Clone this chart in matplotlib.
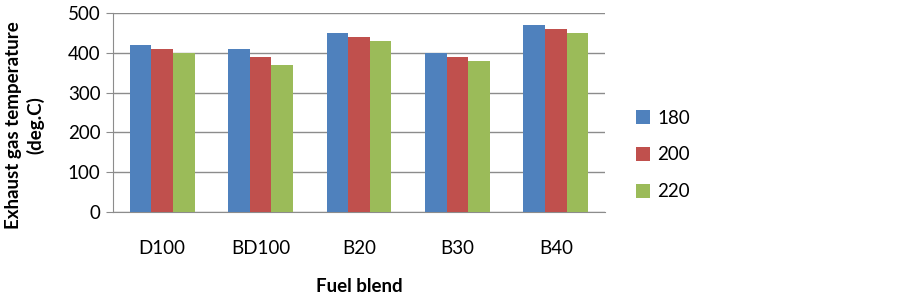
import matplotlib
matplotlib.use("Agg")
import matplotlib.pyplot as plt
import numpy as np

plt.rcParams['font.family'] = ['Lato', 'DejaVu Sans']

categories = ["D100", "BD100", "B20", "B30", "B40"]
series_names = ["180", "200", "220"]
s180 = [420, 410, 450, 400, 470]
s200 = [410, 390, 440, 390, 460]
s220 = [400, 370, 430, 380, 450]
yticks = [0, 100, 200, 300, 400, 500]

colors = ["#4F81BD", "#C0504D", "#9BBB59"]
fs = 13.5

fig = plt.figure(figsize=(9, 2.98), dpi=100)
ax = fig.add_axes([113/900, 1-212/298, (605-113)/900, (212-13)/298])

x = np.arange(len(categories))
w = 0.22
for i, (vals, name) in enumerate(zip([s180, s200, s220], series_names)):
    ax.bar(x + (i-1)*w, vals, width=w, color=colors[i], label=name, zorder=3)

ax.set_xlim(-0.5, len(categories)-0.5)
ax.set_ylim(0, 500)
ax.set_yticks(yticks)
ax.set_xticks(x)
ax.set_xticklabels(categories)
ax.yaxis.grid(True, color="#8C8C8C", linewidth=1.0, zorder=0)
for s in ["top", "right"]:
    ax.spines[s].set_visible(False)
ax.spines["left"].set_color("#8C8C8C")
ax.spines["bottom"].set_color("#8C8C8C")
ax.tick_params(axis="y", length=5, color="#8C8C8C", labelsize=fs, pad=4)
ax.tick_params(axis="x", length=0, labelsize=fs, pad=20)

ax.set_xlabel("Fuel blend", fontsize=fs, fontweight="bold", labelpad=15)
fig.text(25/900, 1-125/298, "Exhaust gas temperature\n(deg.C)", rotation=90,
         ha="center", va="center", fontsize=fs, fontweight="bold", linespacing=1.3)

leg = fig.legend(loc="center left", bbox_to_anchor=(636/900, 1-155/298), frameon=False,
                 fontsize=fs, handlelength=0.75, handleheight=0.75, handletextpad=0.4,
                 labelspacing=1.05, borderpad=0, borderaxespad=0)

fig.savefig("out.png", dpi=100)
